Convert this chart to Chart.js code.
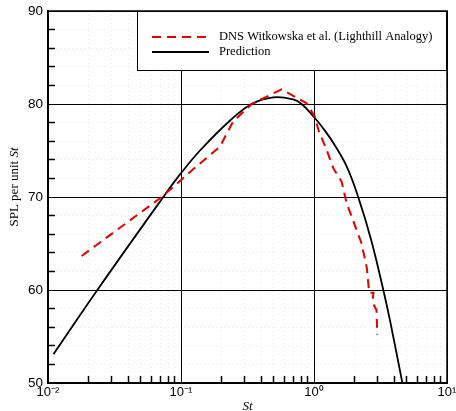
<!DOCTYPE html>
<html>
<head>
<meta charset="utf-8">
<script src="https://cdn.jsdelivr.net/npm/chart.js@4/dist/chart.umd.min.js"></script>
<style>
html,body{margin:0;padding:0;background:#fff;}
#wrap{width:456px;height:411px;position:relative;}
</style>
</head>
<body>
<div id="wrap"><canvas id="c" width="456" height="411"></canvas></div>
<script>
// ---- data ----
const predSt  = [0.011, 0.0235, 0.0736, 0.098, 0.139, 0.233, 0.34, 0.494, 0.698, 0.807, 1.0, 1.17, 1.40, 1.76, 2.15, 2.7, 3.32, 3.73, 4.62];
const predSPL = [53.1, 60.0, 70.0, 72.4, 75.0, 78.2, 80.0, 80.72, 80.5, 80.0, 78.6, 77.4, 75.8, 73.3, 70.0, 65.3, 60.0, 56.7, 50.0];

const dnsSt  = [0.0179, 0.0716, 0.13, 0.196, 0.246, 0.34, 0.571, 0.88, 1.017, 1.08, 1.245, 1.396, 1.614, 1.761, 1.92, 2.09, 2.28, 2.5, 2.6, 2.8, 2.75, 2.95, 2.99];
const dnsSPL = [63.66, 70.0, 73.26, 75.4, 78.1, 80.0, 81.58, 80.07, 78.6, 77.2, 75.05, 73.1, 71.65, 69.3, 67.9, 66.45, 65.0, 62.3, 59.7, 59.7, 58.7, 57.85, 55.2];

const xMajorTicks = [0.01, 0.1, 1, 10];
const xTickLabels = ['10\u207B\u00B2', '10\u207B\u00B9', '10\u2070', '10\u00B9'];
const xMinorTicks = [0.02,0.03,0.04,0.05,0.06,0.07,0.08,0.09, 0.2,0.3,0.4,0.5,0.6,0.7,0.8,0.9, 2,3,4,5,6,7,8,9];
const yMajorTicks = [50, 60, 70, 80, 90];
const yMinorTicks = [52,54,56,58,62,64,66,68,72,74,76,78,82,84,86,88];

const labels = {dns: 'DNS Witkowska et al. (Lighthill Analogy)', pred: 'Prediction'};
const xTitle = 'St';
const yTitleA = 'SPL per unit ';
const yTitleB = 'St';

const SANS = "'Liberation Sans', Arial, sans-serif";
const SERIF = "'Liberation Serif', 'Times New Roman', serif";

const toPts = (xs, ys) => xs.map((x, i) => ({x, y: ys[i]}));

const framePlugin = {
  id: 'frame',
  afterDatasetsDraw(chart) {
    const {ctx, chartArea: a} = chart;
    ctx.save();
    ctx.strokeStyle = '#000';
    ctx.lineWidth = 1.5;
    ctx.beginPath();
    ctx.moveTo(a.left, a.top); ctx.lineTo(a.right, a.top); ctx.lineTo(a.right, a.bottom);
    ctx.stroke();
    ctx.restore();
  }
};

const legendPlugin = {
  id: 'boxLegend',
  afterDraw(chart) {
    const {ctx, chartArea: a} = chart;
    const ds = chart.data.datasets;
    const bx = 137, by = a.top, bw = a.right - 137, bh = 60;
    ctx.save();
    ctx.fillStyle = '#fff';
    ctx.fillRect(bx, by, bw, bh);
    ctx.strokeStyle = '#000';
    ctx.lineWidth = 1;
    ctx.strokeRect(bx + 0.5, by + 0.5, bw - 1, bh - 1);
    const rows = [37, 52];
    ds.forEach((d, i) => {
      const y = rows[i];
      ctx.beginPath();
      ctx.setLineDash(d.borderDash || []);
      ctx.strokeStyle = d.borderColor;
      ctx.lineWidth = d.borderWidth;
      ctx.moveTo(152, y); ctx.lineTo(209, y);
      ctx.stroke();
      ctx.setLineDash([]);
      ctx.fillStyle = '#000';
      ctx.font = '12.5px ' + SERIF;
      ctx.textBaseline = 'middle';
      ctx.textAlign = 'left';
      ctx.fillText(d.label, 219, y);
    });
    ctx.restore();
  }
};

const yTitlePlugin = {
  id: 'yTitle',
  afterDraw(chart) {
    const {ctx} = chart;
    ctx.save();
    ctx.translate(15, 187);
    ctx.rotate(-Math.PI / 2);
    ctx.fillStyle = '#000';
    ctx.textBaseline = 'middle';
    const f1 = '13px ' + SERIF, f2 = 'italic 13px ' + SERIF;
    ctx.font = f1; const w1 = ctx.measureText(yTitleA).width;
    ctx.font = f2; const w2 = ctx.measureText(yTitleB).width;
    const x0 = -(w1 + w2) / 2;
    ctx.font = f1; ctx.textAlign = 'left'; ctx.fillText(yTitleA, x0, 0);
    ctx.font = f2; ctx.fillText(yTitleB, x0 + w1, 0);
    ctx.restore();
  }
};

new Chart(document.getElementById('c'), {
  type: 'scatter',
  data: {
    datasets: [
      {
        label: labels.dns,
        data: toPts(dnsSt, dnsSPL),
        showLine: true,
        borderColor: '#e00000',
        borderWidth: 2,
        borderDash: [9, 6],
        pointRadius: 0,
        tension: 0,
        fill: false
      },
      {
        label: labels.pred,
        data: toPts(predSt, predSPL),
        showLine: true,
        borderColor: '#000',
        borderWidth: 1.8,
        pointRadius: 0,
        tension: 0.4,
        fill: false
      }
    ]
  },
  options: {
    responsive: false,
    animation: false,
    devicePixelRatio: 1,
    layout: {padding: {top: 11, right: 9, left: 0, bottom: 0}},
    plugins: {legend: {display: false}, tooltip: {enabled: false}},
    scales: {
      x: {
        type: 'logarithmic', min: 0.01, max: 10, position: 'bottom',
        afterBuildTicks: s => { s.ticks = xMajorTicks.map(v => ({value: v})); },
        afterFit: s => { s.height = 28; s.paddingLeft = 0; s.paddingRight = 0; },
        ticks: {
          autoSkip: false, maxRotation: 0, minRotation: 0, padding: 10,
          color: '#000', font: {family: SANS, size: 13},
          callback: v => { const i = xMajorTicks.findIndex(t => Math.abs(t - v) / t < 1e-6); return i >= 0 ? xTickLabels[i] : ''; }
        },
        grid: {color: '#000', lineWidth: 1, tickLength: -8, tickColor: '#000', tickWidth: 1},
        border: {color: '#000', width: 2},
        title: {display: true, text: xTitle, color: '#000', font: {family: SERIF, size: 13, style: 'italic', lineHeight: 1}, padding: {top: 0, bottom: -2}}
      },
      xMinor: {
        type: 'logarithmic', min: 0.01, max: 10, position: 'bottom', weight: -1,
        afterBuildTicks: s => { s.ticks = xMinorTicks.map(v => ({value: v})); },
        afterFit: s => { s.height = 0; s.paddingLeft = 0; s.paddingRight = 0; },
        ticks: {display: false},
        grid: {color: '#e6e6e6', lineWidth: 0.8, drawTicks: true, tickLength: -7, tickColor: '#000', tickWidth: 1.5, tickBorderDash: []},
        border: {display: false, dash: [1, 3]}
      },
      y: {
        type: 'linear', min: 50, max: 90, position: 'left',
        afterBuildTicks: s => { s.ticks = yMajorTicks.map(v => ({value: v})); },
        afterFit: s => { s.width = 48; s.paddingTop = 0; s.paddingBottom = 0; },
        ticks: {padding: 13, color: '#000', font: {family: SANS, size: 13.5}},
        grid: {color: '#000', lineWidth: 1, tickLength: -8, tickColor: '#000', tickWidth: 1},
        border: {color: '#000', width: 2}
      },
      yMinor: {
        type: 'linear', min: 50, max: 90, position: 'left', weight: -1,
        afterBuildTicks: s => { s.ticks = yMinorTicks.map(v => ({value: v})); },
        afterFit: s => { s.width = 0; s.paddingTop = 0; s.paddingBottom = 0; },
        ticks: {display: false},
        grid: {color: '#e6e6e6', lineWidth: 0.8, drawTicks: true, tickLength: -7, tickColor: '#000', tickWidth: 1.5, tickBorderDash: []},
        border: {display: false, dash: [1, 3]}
      }
    }
  },
  plugins: [framePlugin, legendPlugin, yTitlePlugin]
});
</script>
</body>
</html>
